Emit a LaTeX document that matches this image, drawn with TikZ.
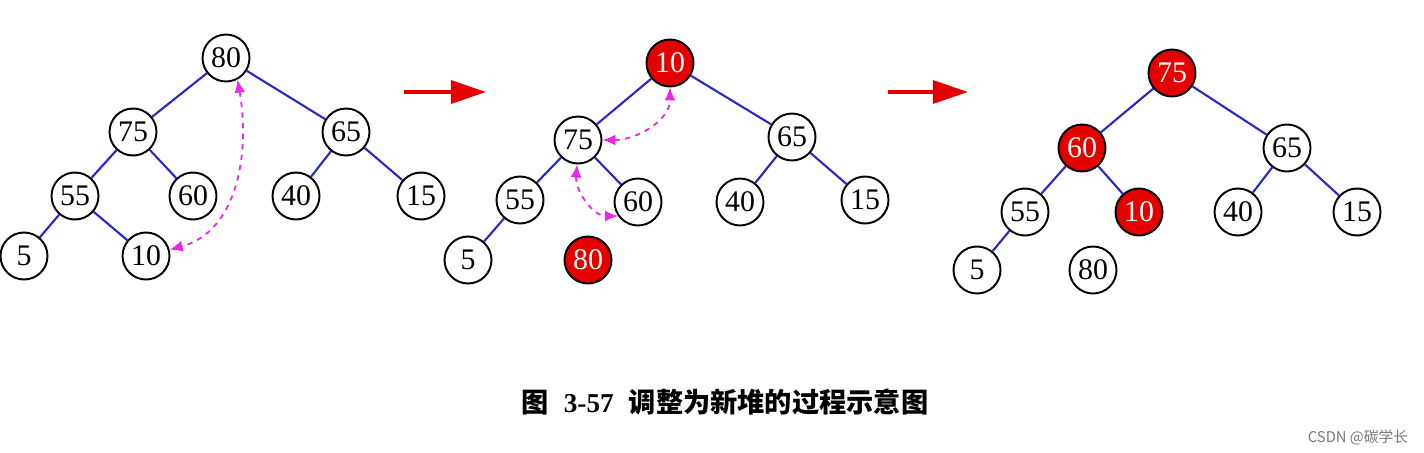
\documentclass[tikz,border=0pt]{standalone}
\usepackage{fontspec}
\setmainfont{Liberation Serif}
\newfontfamily\cjk{Noto Sans CJK SC}
\usetikzlibrary{arrows.meta}
\definecolor{linkblue}{RGB}{40,40,200}
\definecolor{hotred}{RGB}{228,0,0}
\definecolor{swapmag}{RGB}{232,40,232}
\definecolor{markgray}{RGB}{120,120,120}

\begin{document}
\begin{tikzpicture}[x=0.2mm, y=0.2mm,
    key/.style={draw, circle, line width=1.1pt, minimum size=9.4mm, inner sep=0pt,
      font=\fontsize{17}{17}\selectfont, fill=white},
    hot/.style={key, fill=hotred, text=white},
    link/.style={linkblue, line width=1.2pt},
    swp/.style={swapmag, dashed, line width=1pt,
      {Latex[length=2.6mm,width=2.2mm]}-{Latex[length=2.6mm,width=2.2mm]}},
    arr/.style={hotred, line width=2.3pt, -{Triangle[length=20pt,width=13pt]}},
  ]
  \fill[white] (0,0) rectangle (1424,-452);
  \useasboundingbox (0,0) rectangle (1424,-452);

  \node[key] (a80) at (226,-58) {80};
  \node[key] (a75) at (133,-132) {75};
  \node[key] (a65) at (346,-132) {65};
  \node[key] (a55) at (75,-196) {55};
  \node[key] (a60) at (193,-196) {60};
  \node[key] (a40) at (296,-196) {40};
  \node[key] (a15) at (421,-196) {15};
  \node[key] (a5) at (24,-256) {5};
  \node[key] (a10) at (146,-256) {10};
  \draw[link] (a80) -- (a75);
  \draw[link] (a80) -- (a65);
  \draw[link] (a75) -- (a55);
  \draw[link] (a75) -- (a60);
  \draw[link] (a65) -- (a40);
  \draw[link] (a65) -- (a15);
  \draw[link] (a55) -- (a5);
  \draw[link] (a55) -- (a10);
  \draw[swp] (a80.-62) to[out=-80, in=15] (a10.15);

  \coordinate (s1) at (404,-92);
  \coordinate (e1) at (486,-92);
  \draw[arr] (s1) -- (e1);

  \node[hot] (b10) at (670,-63) {10};
  \node[key] (b75) at (578,-140) {75};
  \node[key] (b65) at (792,-137) {65};
  \node[key] (b55) at (520,-200) {55};
  \node[key] (b60) at (638,-202) {60};
  \node[key] (b40) at (740,-202) {40};
  \node[key] (b15) at (865,-200) {15};
  \node[key] (b5) at (468,-260) {5};
  \node[hot] (b80) at (588,-260) {80};
  \draw[link] (b10) -- (b75);
  \draw[link] (b10) -- (b65);
  \draw[link] (b75) -- (b55);
  \draw[link] (b75) -- (b60);
  \draw[link] (b65) -- (b40);
  \draw[link] (b65) -- (b15);
  \draw[link] (b55) -- (b5);
  \draw[swp] (b75.east) to[out=0, in=-90] (b10.south);
  \draw[swp] (b75.-92) to[out=-95, in=180] (b60.215);

  \coordinate (s2) at (888,-92);
  \coordinate (e2) at (968,-92);
  \draw[arr] (s2) -- (e2);

  \node[hot] (c75) at (1172,-73) {75};
  \node[hot] (c60) at (1082,-148) {60};
  \node[key] (c65) at (1287,-148) {65};
  \node[key] (c55) at (1025,-212) {55};
  \node[hot] (c10) at (1139,-212) {10};
  \node[key] (c40) at (1238,-212) {40};
  \node[key] (c15) at (1357,-212) {15};
  \node[key] (c5) at (977,-270) {5};
  \node[key] (c80) at (1093,-270) {80};
  \draw[link] (c75) -- (c60);
  \draw[link] (c75) -- (c65);
  \draw[link] (c60) -- (c55);
  \draw[link] (c60) -- (c10);
  \draw[link] (c65) -- (c40);
  \draw[link] (c65) -- (c15);
  \draw[link] (c55) -- (c5);

  \node[font=\fontsize{15.5}{16}\selectfont] (cap) at (725,-402)
    {\cjk\bfseries 图\hspace{0.55em}{\rmfamily\bfseries 3-57}\hspace{0.55em}调整为新堆的过程示意图};
  \node[font=\fontsize{8.4}{9}\selectfont, text=markgray] (mark) at (1358,-437)
    {\cjk CSDN @碳学长};
\end{tikzpicture}
\end{document}
